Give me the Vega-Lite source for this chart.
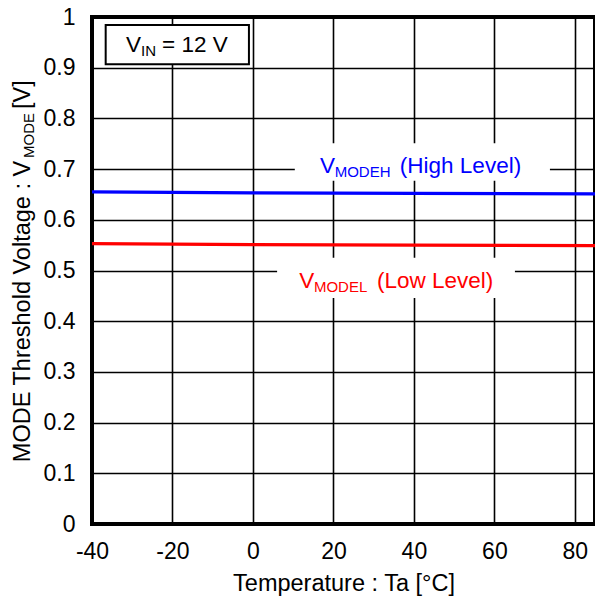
{
  "$schema": "https://vega.github.io/schema/vega-lite/v6.json",
  "width": 503,
  "height": 507,
  "autosize": {"type": "none"},
  "padding": {"left": 92, "top": 17, "right": 0, "bottom": 78},
  "background": "white",
  "config": {
    "font": "Liberation Sans",
    "view": {"stroke": "black", "strokeWidth": 4},
    "axis": {"gridColor": "black", "gridWidth": 1.6, "gridOpacity": 1, "domain": false, "ticks": false, "labelFlush": false, "labelColor": "black", "titleColor": "black", "labelFontSize": 23, "titleFontSize": 23.5, "titleFontWeight": "normal", "labelFont": "Liberation Sans", "titleFont": "Liberation Sans"}
  },
  "datasets": {
    "lines": [
      {"temp": -40, "v": 0.655, "series": "VMODEH"},
      {"temp": 0, "v": 0.653, "series": "VMODEH"},
      {"temp": 40, "v": 0.652, "series": "VMODEH"},
      {"temp": 85, "v": 0.651, "series": "VMODEH"},
      {"temp": -40, "v": 0.553, "series": "VMODEL"},
      {"temp": 0, "v": 0.551, "series": "VMODEL"},
      {"temp": 40, "v": 0.550, "series": "VMODEL"},
      {"temp": 85, "v": 0.549, "series": "VMODEL"}
    ],
    "boxes": [
      {"x": 10.4, "x2": 73.8, "y": 0.677, "y2": 0.751},
      {"x": 6.0, "x2": 65.1, "y": 0.446, "y2": 0.525}
    ],
    "framebox": [
      {"x": -36.6, "x2": -1.0, "y": 0.907, "y2": 0.984}
    ],
    "maintext": [
      {"x": 16.65, "y": 0.692, "text": "V", "series": "VMODEH"},
      {"x": 36.5, "y": 0.692, "text": "(High Level)", "series": "VMODEH"},
      {"x": 11.5, "y": 0.4655, "text": "V", "series": "VMODEL"},
      {"x": 30.8, "y": 0.4655, "text": "(Low Level)", "series": "VMODEL"},
      {"x": -31.55, "y": 0.931, "text": "V", "series": "VIN"},
      {"x": -22.6, "y": 0.931, "text": "= 12 V", "series": "VIN"}
    ],
    "subtext": [
      {"x": 20.3, "y": 0.692, "text": "MODEH", "series": "VMODEH"},
      {"x": 15.15, "y": 0.4655, "text": "MODEL", "series": "VMODEL"},
      {"x": -27.8, "y": 0.931, "text": "IN", "series": "VIN"}
    ],
    "ytitle_main": [{"x": -40, "y": 0.122, "text": "MODE Threshold Voltage : V"}],
    "ytitle_sub": [{"x": -40, "y": 0.722, "text": "MODE"}],
    "ytitle_end": [{"x": -40, "y": 0.8185, "text": "[V]"}]
  },
  "layer": [
    {
      "data": {"name": "lines"},
      "mark": {"type": "line", "strokeWidth": 3.2, "clip": true},
      "encoding": {
        "x": {"field": "temp", "type": "quantitative", "scale": {"domain": [-40, 85], "nice": false, "zero": false},
          "axis": {"values": [-40, -20, 0, 20, 40, 60, 80], "labelExpr": "'' + datum.value", "title": "Temperature : Ta [°C]", "labelPadding": 16, "titlePadding": 8, "grid": true}},
        "y": {"field": "v", "type": "quantitative", "scale": {"domain": [0, 1], "nice": false},
          "axis": {"values": [0, 0.1, 0.2, 0.3, 0.4, 0.5, 0.6, 0.7, 0.8, 0.9, 1], "format": ".1~f", "title": null, "labelPadding": 17, "grid": true}},
        "color": {"field": "series", "type": "nominal", "scale": {"domain": ["VMODEH", "VMODEL", "VIN"], "range": ["#0000FF", "#FF0000", "#000000"]}, "legend": null},
        "detail": {"field": "series"}
      }
    },
    {
      "data": {"name": "boxes"},
      "mark": {"type": "rect", "fill": "white", "stroke": null},
      "encoding": {
        "x": {"field": "x", "type": "quantitative"},
        "x2": {"field": "x2"},
        "y": {"field": "y", "type": "quantitative"},
        "y2": {"field": "y2"}
      }
    },
    {
      "data": {"name": "framebox"},
      "mark": {"type": "rect", "fill": "white", "stroke": "black", "strokeWidth": 2},
      "encoding": {
        "x": {"field": "x", "type": "quantitative"},
        "x2": {"field": "x2"},
        "y": {"field": "y", "type": "quantitative"},
        "y2": {"field": "y2"}
      }
    },
    {
      "data": {"name": "maintext"},
      "mark": {"type": "text", "fontSize": 22.5, "align": "left", "baseline": "alphabetic"},
      "encoding": {
        "x": {"field": "x", "type": "quantitative"},
        "y": {"field": "y", "type": "quantitative"},
        "text": {"field": "text"},
        "color": {"field": "series", "type": "nominal", "legend": null}
      }
    },
    {
      "data": {"name": "subtext"},
      "mark": {"type": "text", "fontSize": 15, "align": "left", "baseline": "alphabetic", "dy": 4},
      "encoding": {
        "x": {"field": "x", "type": "quantitative"},
        "y": {"field": "y", "type": "quantitative"},
        "text": {"field": "text"},
        "color": {"field": "series", "type": "nominal", "legend": null}
      }
    },
    {
      "data": {"name": "ytitle_main"},
      "mark": {"type": "text", "fontSize": 23.5, "align": "left", "baseline": "alphabetic", "angle": 270, "dy": -62, "color": "black"},
      "encoding": {
        "x": {"field": "x", "type": "quantitative"},
        "y": {"field": "y", "type": "quantitative"},
        "text": {"field": "text"}
      }
    },
    {
      "data": {"name": "ytitle_sub"},
      "mark": {"type": "text", "fontSize": 15, "align": "left", "baseline": "alphabetic", "angle": 270, "dy": -58, "color": "black"},
      "encoding": {
        "x": {"field": "x", "type": "quantitative"},
        "y": {"field": "y", "type": "quantitative"},
        "text": {"field": "text"}
      }
    },
    {
      "data": {"name": "ytitle_end"},
      "mark": {"type": "text", "fontSize": 23.5, "align": "left", "baseline": "alphabetic", "angle": 270, "dy": -62, "color": "black"},
      "encoding": {
        "x": {"field": "x", "type": "quantitative"},
        "y": {"field": "y", "type": "quantitative"},
        "text": {"field": "text"}
      }
    }
  ]
}
